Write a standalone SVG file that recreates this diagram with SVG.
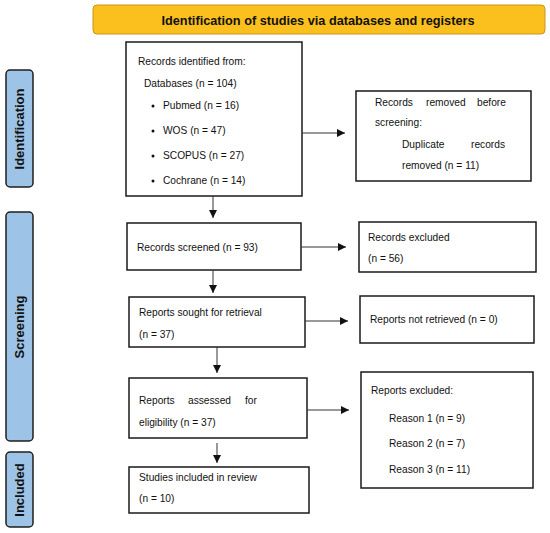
<svg xmlns="http://www.w3.org/2000/svg" width="550" height="533" viewBox="0 0 550 533">
<style>
.box{fill:#fff;stroke:#1a1a1a;stroke-width:1.5}
.side{fill:#9dc3e6;stroke:#1f1f1f;stroke-width:1.5}
.t{font-family:"Liberation Sans",Arial,sans-serif;font-size:10.2px;fill:#111}
.s{font-family:"Liberation Sans",Arial,sans-serif;font-size:13px;font-weight:bold;fill:#111}
.ln{stroke:#333;stroke-width:1;fill:none}
</style>
<defs>
<marker id="ah" markerWidth="9" markerHeight="9" refX="8" refY="4.5" orient="auto" markerUnits="userSpaceOnUse">
<path d="M0,0.5 L8,4.5 L0,8.5 Z" fill="#111"/>
</marker>
</defs>
<rect width="550" height="533" fill="#fff"/>
<g id="title">
<rect x="93" y="5" width="452" height="29" rx="4" fill="#fbbf1e" stroke="#c8961a" stroke-width="1"/>
<text x="318" y="25" text-anchor="middle" font-family="Liberation Sans,Arial,sans-serif" font-size="13" font-weight="bold" fill="#111" textLength="313" lengthAdjust="spacingAndGlyphs">Identification of studies via databases and registers</text>
</g>
<g id="side-identification">
<rect class="side" x="6" y="70" width="27" height="117" rx="4"/>
<text class="s" transform="translate(24,129) rotate(-90)" text-anchor="middle">Identification</text>
</g>
<g id="side-screening">
<rect class="side" x="6" y="212" width="27" height="229" rx="4"/>
<text class="s" transform="translate(24,327) rotate(-90)" text-anchor="middle">Screening</text>
</g>
<g id="side-included">
<rect class="side" x="6" y="452" width="27" height="75" rx="4"/>
<text class="s" transform="translate(24,490) rotate(-90)" text-anchor="middle">Included</text>
</g>
<g id="identified">
<rect class="box" x="126" y="42" width="176" height="154"/>
<text class="t" x="138" y="65">Records identified from:</text>
<text class="t" x="144" y="87">Databases (n = 104)</text>
<circle cx="153" cy="106" r="1.5" fill="#111"/>
<text class="t" x="163" y="109">Pubmed (n = 16)</text>
<circle cx="153" cy="131" r="1.5" fill="#111"/>
<text class="t" x="163" y="134">WOS (n = 47)</text>
<circle cx="153" cy="156" r="1.5" fill="#111"/>
<text class="t" x="163" y="159">SCOPUS (n = 27)</text>
<circle cx="153" cy="181" r="1.5" fill="#111"/>
<text class="t" x="163" y="184">Cochrane (n = 14)</text>
</g>
<g id="removed">
<rect class="box" x="356" y="91" width="175" height="90"/>
<text class="t" x="375" y="106">Records</text>
<text class="t" x="426" y="106">removed</text>
<text class="t" x="477" y="106">before</text>
<text class="t" x="375" y="126">screening:</text>
<text class="t" x="402" y="148">Duplicate</text>
<text class="t" x="471" y="148">records</text>
<text class="t" x="402" y="169">removed (n = 11)</text>
</g>
<g id="screened">
<rect class="box" x="127" y="223" width="174" height="47"/>
<text class="t" x="137" y="251">Records screened (n = 93)</text>
</g>
<g id="excluded">
<rect class="box" x="359" y="222" width="177" height="50"/>
<text class="t" x="368" y="241">Records excluded</text>
<text class="t" x="368" y="262">(n = 56)</text>
</g>
<g id="sought">
<rect class="box" x="129" y="297" width="176" height="50"/>
<text class="t" x="139" y="316">Reports sought for retrieval</text>
<text class="t" x="139" y="338">(n = 37)</text>
</g>
<g id="not-retrieved">
<rect class="box" x="360" y="296" width="174" height="47"/>
<text class="t" x="370" y="323">Reports not retrieved (n = 0)</text>
</g>
<g id="assessed">
<rect class="box" x="129" y="378" width="178" height="60"/>
<text class="t" x="139" y="404">Reports</text>
<text class="t" x="188" y="404">assessed</text>
<text class="t" x="245" y="404">for</text>
<text class="t" x="139" y="426">eligibility (n = 37)</text>
</g>
<g id="reports-excluded">
<rect class="box" x="361" y="372" width="172" height="116"/>
<text class="t" x="371" y="394">Reports excluded:</text>
<text class="t" x="389" y="422">Reason 1 (n = 9)</text>
<text class="t" x="389" y="447">Reason 2 (n = 7)</text>
<text class="t" x="389" y="473">Reason 3 (n = 11)</text>
</g>
<g id="included">
<rect class="box" x="129" y="467" width="180" height="46"/>
<text class="t" x="139" y="481">Studies included in review</text>
<text class="t" x="139" y="502">(n = 10)</text>
</g>
<g id="connectors">
<line class="ln" x1="302" y1="133" x2="345" y2="133" marker-end="url(#ah)"/>
<line class="ln" x1="213" y1="196" x2="213" y2="218" marker-end="url(#ah)"/>
<line class="ln" x1="301" y1="247" x2="346" y2="247" marker-end="url(#ah)"/>
<line class="ln" x1="213" y1="270" x2="213" y2="293" marker-end="url(#ah)"/>
<line class="ln" x1="305" y1="321" x2="348" y2="321" marker-end="url(#ah)"/>
<line class="ln" x1="217" y1="347" x2="217" y2="373" marker-end="url(#ah)"/>
<line class="ln" x1="307" y1="410" x2="349" y2="410" marker-end="url(#ah)"/>
<line class="ln" x1="217" y1="443" x2="217" y2="463" marker-end="url(#ah)"/>
</g>
</svg>
